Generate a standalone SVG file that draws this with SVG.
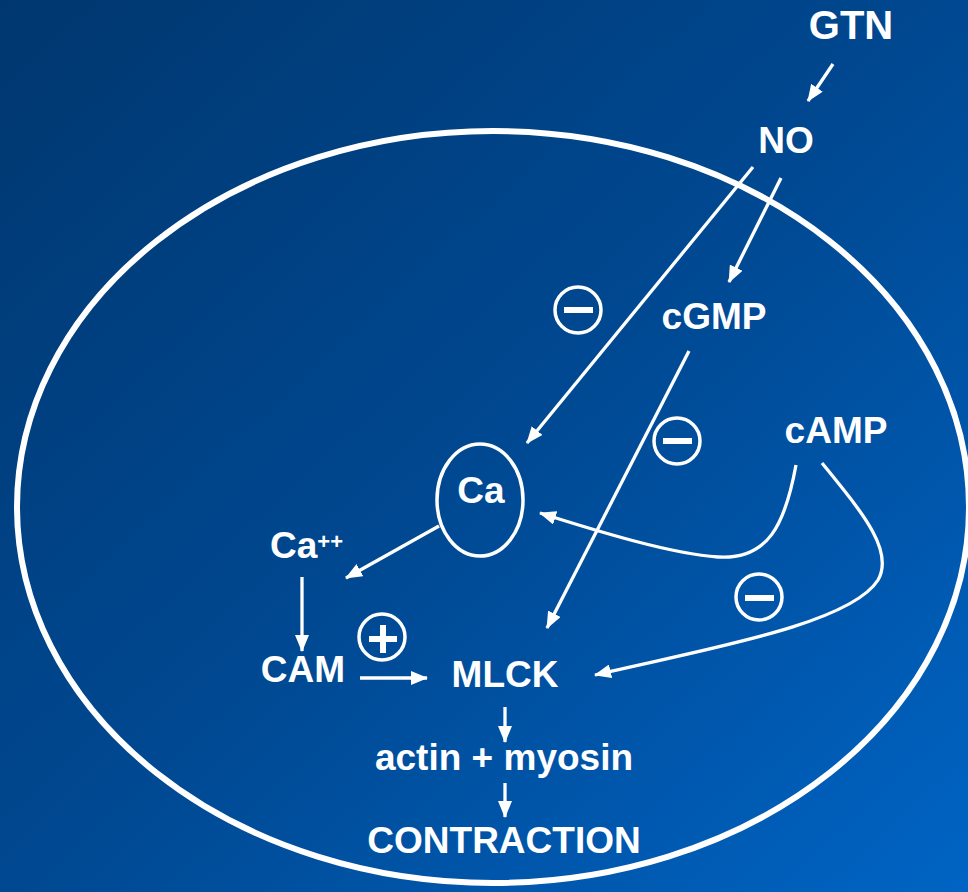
<svg xmlns="http://www.w3.org/2000/svg" width="968" height="892" viewBox="0 0 968 892">
<defs>
<linearGradient id="bg" x1="0" y1="0" x2="1" y2="1">
<stop offset="0" stop-color="#00376f"/>
<stop offset="0.5" stop-color="#004891"/>
<stop offset="1" stop-color="#0064c4"/>
</linearGradient>
<marker id="ah" viewBox="0 0 17 14" refX="16" refY="7" markerWidth="17" markerHeight="14" markerUnits="userSpaceOnUse" orient="auto">
<path d="M0,0 L17,7 L0,14 z" fill="#fff"/>
</marker>
<style>
.lbl{font-family:"Liberation Sans",Arial,Helvetica,sans-serif;font-weight:bold;font-size:37px;fill:#fff;text-anchor:middle}
.conn{stroke:#fff;stroke-width:3.3;fill:none;marker-end:url(#ah)}
.sign{stroke:#fff;stroke-width:3.5;fill:none}
.bar{fill:#fff}
</style>
</defs>
<rect width="968" height="892" fill="url(#bg)"/>
<g id="cell"><ellipse cx="493" cy="507" rx="476" ry="376" fill="none" stroke="#fff" stroke-width="6"/></g>

<g id="connectors">
<line class="conn" x1="833" y1="64" x2="808" y2="101"/>
<line class="conn" x1="753" y1="167" x2="527" y2="443"/>
<line class="conn" x1="781" y1="178" x2="729" y2="282"/>
<line class="conn" x1="689" y1="351" x2="547" y2="628"/>
<line class="conn" x1="439" y1="526" x2="346" y2="578"/>
<line class="conn" x1="302" y1="577" x2="302" y2="651"/>
<line class="conn" x1="360" y1="678" x2="427" y2="678"/>
<line class="conn" x1="505" y1="707" x2="505" y2="742"/>
<line class="conn" x1="505" y1="783" x2="505" y2="817"/>
<path class="conn" d="M796,465 C785,525 768,560 718,557 C672,554 600,532 540,513"/>
<path class="conn" d="M822,463 C860,510 895,550 878,580 C850,625 700,650 595,675"/>
</g>

<g id="GTN"><text class="lbl" x="851" y="39" style="font-size:40px">GTN</text></g>
<g id="NO"><text class="lbl" x="786" y="153">NO</text></g>
<g id="cGMP"><text class="lbl" x="714" y="329">cGMP</text></g>
<g id="cAMP"><text class="lbl" x="836" y="443">cAMP</text></g>
<g id="Ca"><ellipse cx="480" cy="500" rx="43" ry="56" fill="none" stroke="#fff" stroke-width="3.5"/><text class="lbl" x="481" y="503">Ca</text></g>
<g id="Caplus"><text class="lbl" x="270" y="558" style="text-anchor:start">Ca<tspan style="font-size:22px" dy="-9">++</tspan></text></g>
<g id="CAM"><text class="lbl" x="303" y="682">CAM</text></g>
<g id="MLCK"><text class="lbl" x="505" y="687">MLCK</text></g>
<g id="actin"><text class="lbl" x="504" y="770">actin + myosin</text></g>
<g id="CONTRACTION"><text class="lbl" x="504" y="853">CONTRACTION</text></g>

<g id="minus1"><circle class="sign" cx="578" cy="310" r="23"/><rect class="bar" x="564" y="307" width="29" height="6"/></g>
<g id="minus2"><circle class="sign" cx="677" cy="441" r="23"/><rect class="bar" x="663" y="438" width="29" height="6"/></g>
<g id="minus3"><circle class="sign" cx="759" cy="597" r="23"/><rect class="bar" x="745" y="595" width="29" height="6"/></g>
<g id="plus"><circle class="sign" cx="382" cy="637" r="23"/><rect class="bar" x="369" y="636" width="28" height="6"/><rect class="bar" x="380" y="625" width="6" height="28"/></g>
</svg>
